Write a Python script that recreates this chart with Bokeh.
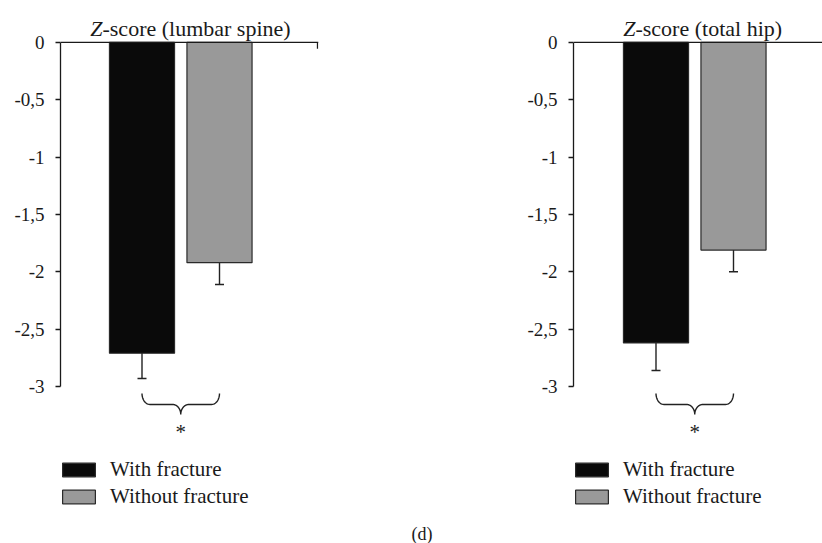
import numpy as np
from bokeh.plotting import figure
from bokeh.layouts import row, column
from bokeh.models import (Range1d, FixedTicker, Span, Label, Legend, LegendItem,
                          Whisker, TeeHead, ColumnDataSource, Div)
from bokeh.core.properties import value
from bokeh.embed import file_html
from bokeh.resources import INLINE

# ---------------- data ----------------
GROUPS = ["With fracture", "Without fracture"]
POSITIONS = [1, 2]
TITLE_ITALIC = "Z"
PANEL_TITLES = ["-score (lumbar spine)", "-score (total hip)"]
LUMBAR_MEAN = [-2.71, -1.92]
LUMBAR_ERR = [0.22, 0.19]
HIP_MEAN = [-2.62, -1.81]
HIP_ERR = [0.24, 0.19]
Y_TICKS = [0, -0.5, -1, -1.5, -2, -2.5, -3]
Y_TICK_LABELS = ["0", "-0,5", "-1", "-1,5", "-2", "-2,5", "-3"]
SIGNIF = "*"
PANEL_LABEL = "(d)"

# ---------------- style ----------------
COLORS = ["#0a0a0a", "#999999"]
EDGE = "#2a2a2a"
FONT = "'Liberation Serif', serif"
H = 515
Y_RANGE = (-4.125, 0.366)
BAR_W = 0.84


def brace_path(xa, xb, y_end, y_mid, y_tip, rx):
    xc = (xa + xb) / 2
    t = np.linspace(0, np.pi / 2, 14)
    ry1 = y_end - y_mid
    ry2 = y_mid - y_tip
    a = np.pi + t
    x1 = xa + rx + rx * np.cos(a); y1 = y_end + ry1 * np.sin(a)
    b = np.pi / 2 - t
    x2 = xc - rx + rx * np.cos(b); y2 = y_tip + ry2 * np.sin(b)
    c = np.pi - t
    x3 = xc + rx + rx * np.cos(c); y3 = y_tip + ry2 * np.sin(c)
    d = 1.5 * np.pi + t
    x4 = xb - rx + rx * np.cos(d); y4 = y_end + ry1 * np.sin(d)
    return np.concatenate([x1, x2, x3, x4]), np.concatenate([y1, y2, y3, y4])


def make_panel(means, errs, title, width, border_left, border_right, x_range,
               title_x, end_tick=False):
    p = figure(width=width, height=H, output_backend="svg", toolbar_location=None,
               x_range=Range1d(*x_range), y_range=Range1d(*Y_RANGE),
               x_axis_location=None, min_border_left=border_left,
               min_border_right=border_right, min_border_top=0, min_border_bottom=0)
    p.outline_line_color = None
    p.xgrid.grid_line_color = None
    p.ygrid.grid_line_color = None
    p.background_fill_color = "white"

    renderers = []
    for i in range(len(GROUPS)):
        r = p.vbar(x=[POSITIONS[i]], top=[0], bottom=[means[i]], width=BAR_W,
                   fill_color=COLORS[i], line_color=EDGE, line_width=1.2)
        renderers.append(r)

    src = ColumnDataSource(dict(x=POSITIONS,
                                upper=[m + e for m, e in zip(means, errs)],
                                lower=[m - e for m, e in zip(means, errs)]))
    w = Whisker(source=src, base="x", upper="upper", lower="lower",
                line_color="#222222", line_width=1.4,
                upper_head=TeeHead(size=9, line_color="#222222", line_width=1.4),
                lower_head=TeeHead(size=9, line_color="#222222", line_width=1.4))
    p.add_layout(w)

    p.add_layout(Span(location=0, dimension="width", line_color="#1a1a1a", line_width=1.3))
    if end_tick:
        xt = x_range[1] - 1 / 77.5
        p.segment(x0=[xt], y0=[0], x1=[xt], y1=[-0.055], line_color="#1a1a1a", line_width=1.3)

    ax = p.yaxis[0]
    ax.ticker = FixedTicker(ticks=Y_TICKS)
    ax.major_label_overrides = {t: l for t, l in zip(Y_TICKS, Y_TICK_LABELS)}
    ax.bounds = (min(Y_TICKS), max(Y_TICKS))
    ax.minor_tick_line_color = None
    ax.major_tick_in = 0
    ax.major_tick_out = 5
    ax.major_label_standoff = 11
    ax.axis_line_color = "#1a1a1a"
    ax.axis_line_width = 1.3
    ax.major_tick_line_color = "#1a1a1a"
    ax.major_tick_line_width = 1.3
    ax.major_label_text_font = FONT
    ax.major_label_text_font_size = "19px"
    ax.major_label_text_color = "#1a1a1a"

    # title (italic Z + rest)
    for txt, style, align in [(TITLE_ITALIC, "italic", "right"), (title, "normal", "left")]:
        p.add_layout(Label(x=title_x, y=0.125, text=txt, text_align=align,
                           text_baseline="alphabetic", text_font=FONT,
                           text_font_style=style, text_font_size="22px",
                           text_color="#1a1a1a"))

    # significance brace
    bx, by = brace_path(POSITIONS[0], POSITIONS[1], -3.061, -3.157, -3.244, 0.103)
    p.line(bx, by, line_color="#222222", line_width=1.4)
    p.text(x=[sum(POSITIONS) / 2], y=[-3.40], text=[SIGNIF], text_align="center",
           text_baseline="alphabetic", text_font=value(FONT), text_font_size="21px",
           text_color="#222222")

    legend = Legend(items=[LegendItem(label=GROUPS[i], renderers=[renderers[i]])
                           for i in range(len(GROUPS))],
                    location=(-2, 6), padding=0, margin=0, spacing=2,
                    glyph_width=41, glyph_height=17, label_height=14,
                    label_standoff=11, label_text_font=FONT,
                    label_text_font_size="21px", label_text_color="#1a1a1a",
                    border_line_alpha=0, background_fill_alpha=0)
    p.add_layout(legend)
    return p


p1 = make_panel(LUMBAR_MEAN, LUMBAR_ERR, PANEL_TITLES[0], 400, 60, 82,
                (-0.0516, 3.2774), 0.490, end_tick=True)
p2 = make_panel(HIP_MEAN, HIP_ERR, PANEL_TITLES[1], 422, 173, 0,
                (-0.0645, 3.1484), 0.735)

caption = Div(text=PANEL_LABEL, width=800, height=28, margin=(0, 0, 0, 22),
              styles={"font-family": FONT, "font-size": "18px", "text-align": "center",
                      "line-height": "38px", "color": "#1a1a1a"})

layout = column(row(p1, p2), caption)
open("out.html", "w").write(file_html(layout, INLINE))
